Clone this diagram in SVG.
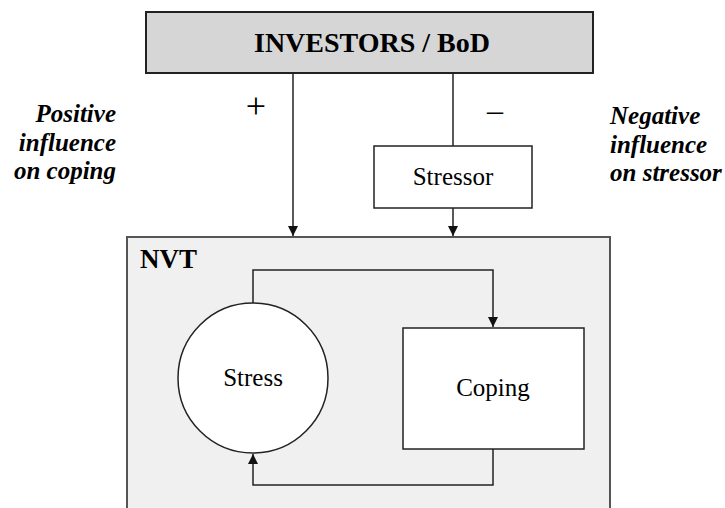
<svg xmlns="http://www.w3.org/2000/svg" width="725" height="508" viewBox="0 0 725 508" font-family="'Liberation Serif', 'Times New Roman', 'DejaVu Serif', serif">
<defs>
<style>
text{font-family:'Liberation Serif','Times New Roman','DejaVu Serif',serif;fill:#000}
.lab{font-size:25px}
.bi{font-size:25px;font-weight:bold;font-style:italic}
.ln{fill:none;stroke:#222;stroke-width:1.5}
.box{fill:#fff;stroke:#222;stroke-width:1.5}
</style>
<marker id="ah" viewBox="0 0 10 10" refX="10" refY="5" markerWidth="10" markerHeight="10" markerUnits="userSpaceOnUse" orient="auto">
<path d="M0,0 L10,5 L0,10 z" fill="#111"/>
</marker>
</defs>
<rect width="725" height="508" fill="#fff"/>

<g id="nvt">
<rect x="127" y="237" width="483" height="290" fill="#f0f0f0" stroke="#555" stroke-width="2"/>
<text x="140" y="268" font-size="27" font-weight="bold">NVT</text>
</g>

<g id="investors">
<rect x="146" y="12" width="447" height="61" fill="#d6d6d6" stroke="#222" stroke-width="2"/>
<text x="372" y="52" font-size="28" font-weight="bold" text-anchor="middle">INVESTORS / BoD</text>
</g>

<g id="stressor">
<rect class="box" x="374" y="146" width="158" height="62"/>
<text class="lab" x="453" y="185" text-anchor="middle">Stressor</text>
</g>

<g id="stress">
<circle class="box" cx="253" cy="378" r="75"/>
<text class="lab" x="253" y="386" text-anchor="middle">Stress</text>
</g>

<g id="coping">
<rect class="box" x="403" y="328" width="181" height="121"/>
<text class="lab" x="493" y="396" text-anchor="middle">Coping</text>
</g>

<g id="connectors">
<path class="ln" d="M293,73 V236" marker-end="url(#ah)"/>
<path class="ln" d="M453,73 V146"/>
<path class="ln" d="M453,208 V236" marker-end="url(#ah)"/>
<path class="ln" d="M253,303 V270 H493 V327" marker-end="url(#ah)"/>
<path class="ln" d="M493,449 V485 H253 V454" marker-end="url(#ah)"/>
</g>

<g id="labels">
<text x="256" y="118" font-size="36" text-anchor="middle">+</text>
<text x="495" y="121" font-size="32" text-anchor="middle">–</text>
<text class="bi" x="116" y="122" text-anchor="end">Positive</text>
<text class="bi" x="116" y="151" text-anchor="end">influence</text>
<text class="bi" x="116" y="179" text-anchor="end">on coping</text>
<text class="bi" x="610" y="124">Negative</text>
<text class="bi" x="610" y="153">influence</text>
<text class="bi" x="610" y="181">on stressor</text>
</g>
</svg>
